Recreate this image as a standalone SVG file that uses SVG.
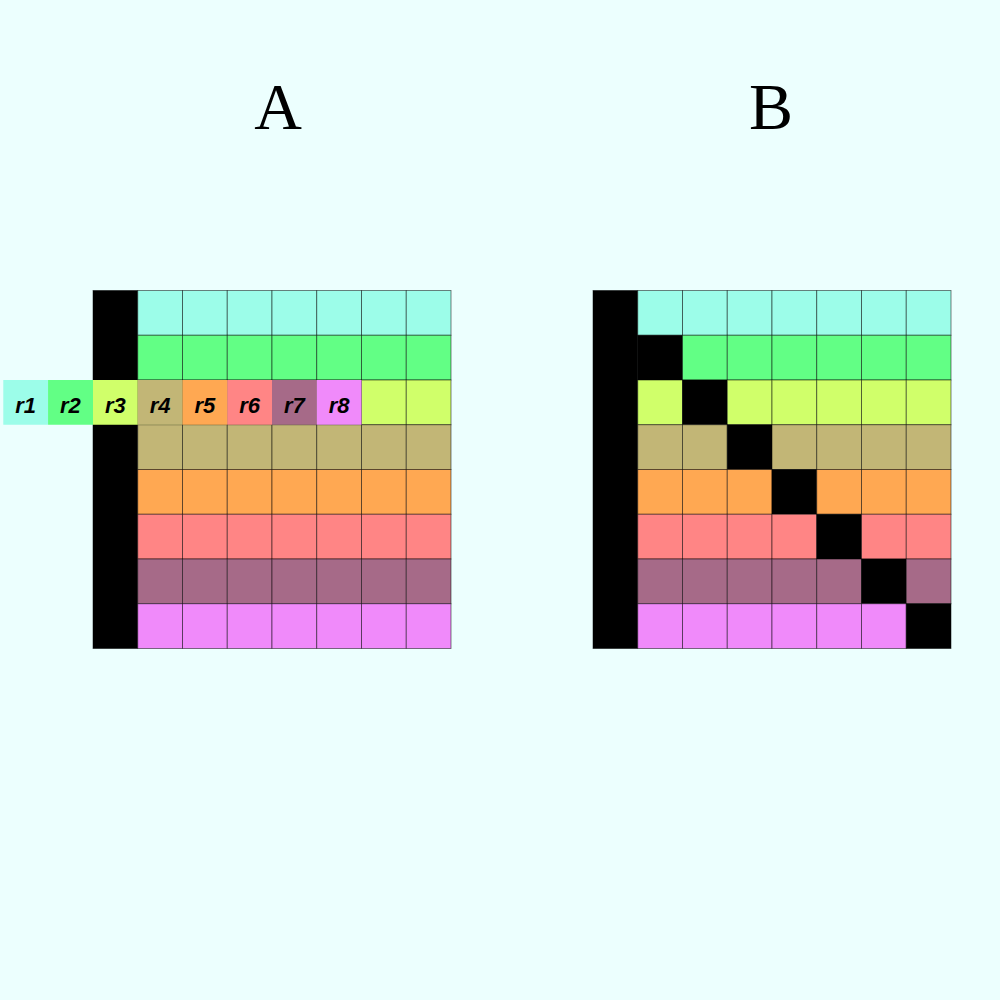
<svg xmlns="http://www.w3.org/2000/svg" width="1000" height="1000" viewBox="0 0 1000 1000">
<style>
.c rect{stroke:#000;stroke-opacity:0.55;stroke-width:0.9}
.k{fill:#000}
.c1{fill:#9cfde9}.c2{fill:#62ff85}.c3{fill:#d0ff6a}.c4{fill:#c2b676}
.c5{fill:#ffa852}.c6{fill:#ff8585}.c7{fill:#a66a88}.c8{fill:#f08afa}
.t{font-family:"Liberation Serif",serif;font-size:66px;text-anchor:middle;fill:#000}
.l{font-family:"Liberation Sans",Arial,sans-serif;font-size:22px;font-weight:bold;font-style:italic;text-anchor:middle;fill:#000}
</style>
<rect width="1000" height="1000" fill="#ecfffe"/>
<text class="t" x="278" y="129">A</text>
<text class="t" x="771" y="129">B</text>
<g id="gridA" class="c">
<rect class="k" x="93" y="290.5" width="44.75" height="358" stroke="none"/>
<g id="A-row1"><rect class="c1" x="137.75" y="290.5" width="44.75" height="44.75"/><rect class="c1" x="182.5" y="290.5" width="44.75" height="44.75"/><rect class="c1" x="227.25" y="290.5" width="44.75" height="44.75"/><rect class="c1" x="272" y="290.5" width="44.75" height="44.75"/><rect class="c1" x="316.75" y="290.5" width="44.75" height="44.75"/><rect class="c1" x="361.5" y="290.5" width="44.75" height="44.75"/><rect class="c1" x="406.25" y="290.5" width="44.75" height="44.75"/></g>
<g id="A-row2"><rect class="c2" x="137.75" y="335.25" width="44.75" height="44.75"/><rect class="c2" x="182.5" y="335.25" width="44.75" height="44.75"/><rect class="c2" x="227.25" y="335.25" width="44.75" height="44.75"/><rect class="c2" x="272" y="335.25" width="44.75" height="44.75"/><rect class="c2" x="316.75" y="335.25" width="44.75" height="44.75"/><rect class="c2" x="361.5" y="335.25" width="44.75" height="44.75"/><rect class="c2" x="406.25" y="335.25" width="44.75" height="44.75"/></g>
<g id="A-row3"><rect class="c3" x="137.75" y="380" width="44.75" height="44.75"/><rect class="c3" x="182.5" y="380" width="44.75" height="44.75"/><rect class="c3" x="227.25" y="380" width="44.75" height="44.75"/><rect class="c3" x="272" y="380" width="44.75" height="44.75"/><rect class="c3" x="316.75" y="380" width="44.75" height="44.75"/><rect class="c3" x="361.5" y="380" width="44.75" height="44.75"/><rect class="c3" x="406.25" y="380" width="44.75" height="44.75"/></g>
<g id="A-row4"><rect class="c4" x="137.75" y="424.75" width="44.75" height="44.75"/><rect class="c4" x="182.5" y="424.75" width="44.75" height="44.75"/><rect class="c4" x="227.25" y="424.75" width="44.75" height="44.75"/><rect class="c4" x="272" y="424.75" width="44.75" height="44.75"/><rect class="c4" x="316.75" y="424.75" width="44.75" height="44.75"/><rect class="c4" x="361.5" y="424.75" width="44.75" height="44.75"/><rect class="c4" x="406.25" y="424.75" width="44.75" height="44.75"/></g>
<g id="A-row5"><rect class="c5" x="137.75" y="469.5" width="44.75" height="44.75"/><rect class="c5" x="182.5" y="469.5" width="44.75" height="44.75"/><rect class="c5" x="227.25" y="469.5" width="44.75" height="44.75"/><rect class="c5" x="272" y="469.5" width="44.75" height="44.75"/><rect class="c5" x="316.75" y="469.5" width="44.75" height="44.75"/><rect class="c5" x="361.5" y="469.5" width="44.75" height="44.75"/><rect class="c5" x="406.25" y="469.5" width="44.75" height="44.75"/></g>
<g id="A-row6"><rect class="c6" x="137.75" y="514.25" width="44.75" height="44.75"/><rect class="c6" x="182.5" y="514.25" width="44.75" height="44.75"/><rect class="c6" x="227.25" y="514.25" width="44.75" height="44.75"/><rect class="c6" x="272" y="514.25" width="44.75" height="44.75"/><rect class="c6" x="316.75" y="514.25" width="44.75" height="44.75"/><rect class="c6" x="361.5" y="514.25" width="44.75" height="44.75"/><rect class="c6" x="406.25" y="514.25" width="44.75" height="44.75"/></g>
<g id="A-row7"><rect class="c7" x="137.75" y="559" width="44.75" height="44.75"/><rect class="c7" x="182.5" y="559" width="44.75" height="44.75"/><rect class="c7" x="227.25" y="559" width="44.75" height="44.75"/><rect class="c7" x="272" y="559" width="44.75" height="44.75"/><rect class="c7" x="316.75" y="559" width="44.75" height="44.75"/><rect class="c7" x="361.5" y="559" width="44.75" height="44.75"/><rect class="c7" x="406.25" y="559" width="44.75" height="44.75"/></g>
<g id="A-row8"><rect class="c8" x="137.75" y="603.75" width="44.75" height="44.75"/><rect class="c8" x="182.5" y="603.75" width="44.75" height="44.75"/><rect class="c8" x="227.25" y="603.75" width="44.75" height="44.75"/><rect class="c8" x="272" y="603.75" width="44.75" height="44.75"/><rect class="c8" x="316.75" y="603.75" width="44.75" height="44.75"/><rect class="c8" x="361.5" y="603.75" width="44.75" height="44.75"/><rect class="c8" x="406.25" y="603.75" width="44.75" height="44.75"/></g>
</g>
<g id="labels">
<g id="r1"><rect class="c1" x="3.3" y="380" width="44.75" height="44.75"/><text class="l" x="25.7" y="413">r1</text></g>
<g id="r2"><rect class="c2" x="48.05" y="380" width="44.95" height="44.75"/><text class="l" x="70.4" y="413">r2</text></g>
<g id="r3"><rect class="c3" x="93" y="380" width="44.75" height="44.75"/><text class="l" x="115.4" y="413">r3</text></g>
<g id="r4"><rect class="c4" x="137.75" y="380" width="44.75" height="44.75"/><text class="l" x="160.1" y="413">r4</text></g>
<g id="r5"><rect class="c5" x="182.5" y="380" width="44.75" height="44.75"/><text class="l" x="204.9" y="413">r5</text></g>
<g id="r6"><rect class="c6" x="227.25" y="380" width="44.75" height="44.75"/><text class="l" x="249.6" y="413">r6</text></g>
<g id="r7"><rect class="c7" x="272" y="380" width="44.75" height="44.75"/><text class="l" x="294.4" y="413">r7</text></g>
<g id="r8"><rect class="c8" x="316.75" y="380" width="44.75" height="44.75"/><text class="l" x="339.1" y="413">r8</text></g>
</g>
<g id="gridB" class="c">
<rect class="k" x="593" y="290.5" width="44.75" height="358" stroke="none"/>
<g id="B-row1"><rect class="c1" x="637.75" y="290.5" width="44.75" height="44.75"/><rect class="c1" x="682.5" y="290.5" width="44.75" height="44.75"/><rect class="c1" x="727.25" y="290.5" width="44.75" height="44.75"/><rect class="c1" x="772" y="290.5" width="44.75" height="44.75"/><rect class="c1" x="816.75" y="290.5" width="44.75" height="44.75"/><rect class="c1" x="861.5" y="290.5" width="44.75" height="44.75"/><rect class="c1" x="906.25" y="290.5" width="44.75" height="44.75"/></g>
<g id="B-row2"><rect class="k" x="637.75" y="335.25" width="44.75" height="44.75" stroke="none"/><rect class="c2" x="682.5" y="335.25" width="44.75" height="44.75"/><rect class="c2" x="727.25" y="335.25" width="44.75" height="44.75"/><rect class="c2" x="772" y="335.25" width="44.75" height="44.75"/><rect class="c2" x="816.75" y="335.25" width="44.75" height="44.75"/><rect class="c2" x="861.5" y="335.25" width="44.75" height="44.75"/><rect class="c2" x="906.25" y="335.25" width="44.75" height="44.75"/></g>
<g id="B-row3"><rect class="c3" x="637.75" y="380" width="44.75" height="44.75"/><rect class="k" x="682.5" y="380" width="44.75" height="44.75"/><rect class="c3" x="727.25" y="380" width="44.75" height="44.75"/><rect class="c3" x="772" y="380" width="44.75" height="44.75"/><rect class="c3" x="816.75" y="380" width="44.75" height="44.75"/><rect class="c3" x="861.5" y="380" width="44.75" height="44.75"/><rect class="c3" x="906.25" y="380" width="44.75" height="44.75"/></g>
<g id="B-row4"><rect class="c4" x="637.75" y="424.75" width="44.75" height="44.75"/><rect class="c4" x="682.5" y="424.75" width="44.75" height="44.75"/><rect class="k" x="727.25" y="424.75" width="44.75" height="44.75"/><rect class="c4" x="772" y="424.75" width="44.75" height="44.75"/><rect class="c4" x="816.75" y="424.75" width="44.75" height="44.75"/><rect class="c4" x="861.5" y="424.75" width="44.75" height="44.75"/><rect class="c4" x="906.25" y="424.75" width="44.75" height="44.75"/></g>
<g id="B-row5"><rect class="c5" x="637.75" y="469.5" width="44.75" height="44.75"/><rect class="c5" x="682.5" y="469.5" width="44.75" height="44.75"/><rect class="c5" x="727.25" y="469.5" width="44.75" height="44.75"/><rect class="k" x="772" y="469.5" width="44.75" height="44.75"/><rect class="c5" x="816.75" y="469.5" width="44.75" height="44.75"/><rect class="c5" x="861.5" y="469.5" width="44.75" height="44.75"/><rect class="c5" x="906.25" y="469.5" width="44.75" height="44.75"/></g>
<g id="B-row6"><rect class="c6" x="637.75" y="514.25" width="44.75" height="44.75"/><rect class="c6" x="682.5" y="514.25" width="44.75" height="44.75"/><rect class="c6" x="727.25" y="514.25" width="44.75" height="44.75"/><rect class="c6" x="772" y="514.25" width="44.75" height="44.75"/><rect class="k" x="816.75" y="514.25" width="44.75" height="44.75"/><rect class="c6" x="861.5" y="514.25" width="44.75" height="44.75"/><rect class="c6" x="906.25" y="514.25" width="44.75" height="44.75"/></g>
<g id="B-row7"><rect class="c7" x="637.75" y="559" width="44.75" height="44.75"/><rect class="c7" x="682.5" y="559" width="44.75" height="44.75"/><rect class="c7" x="727.25" y="559" width="44.75" height="44.75"/><rect class="c7" x="772" y="559" width="44.75" height="44.75"/><rect class="c7" x="816.75" y="559" width="44.75" height="44.75"/><rect class="k" x="861.5" y="559" width="44.75" height="44.75"/><rect class="c7" x="906.25" y="559" width="44.75" height="44.75"/></g>
<g id="B-row8"><rect class="c8" x="637.75" y="603.75" width="44.75" height="44.75"/><rect class="c8" x="682.5" y="603.75" width="44.75" height="44.75"/><rect class="c8" x="727.25" y="603.75" width="44.75" height="44.75"/><rect class="c8" x="772" y="603.75" width="44.75" height="44.75"/><rect class="c8" x="816.75" y="603.75" width="44.75" height="44.75"/><rect class="c8" x="861.5" y="603.75" width="44.75" height="44.75"/><rect class="k" x="906.25" y="603.75" width="44.75" height="44.75"/></g>
</g>
</svg>
